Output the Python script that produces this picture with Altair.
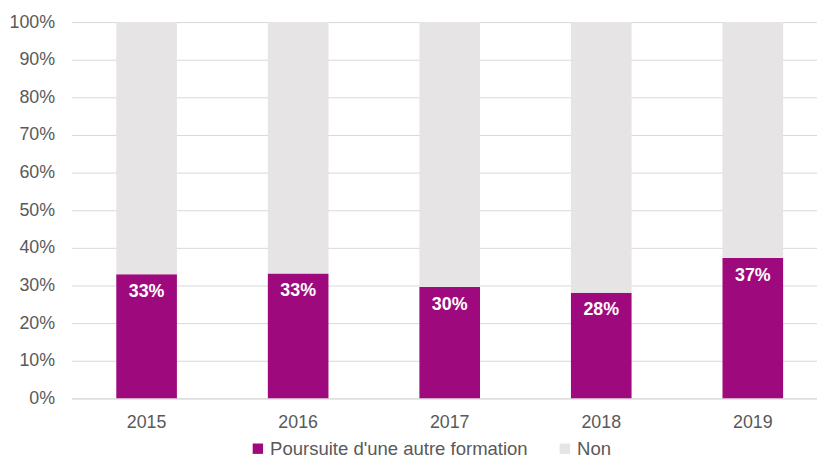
import altair as alt
import pandas as pd

years = ["2015", "2016", "2017", "2018", "2019"]
poursuite = [0.330, 0.332, 0.296, 0.281, 0.373]
non = [0.670, 0.668, 0.704, 0.719, 0.627]
series = ["Poursuite d'une autre formation", "Non"]
colors = ["#9E0A7E", "#E6E4E4"]
y_ticks = [0.0, 0.1, 0.2, 0.3, 0.4, 0.5, 0.6, 0.7, 0.8, 0.9, 1.0]

rows = []
for i, y in enumerate(years):
    rows.append({"year": y, "serie": series[0], "value": poursuite[i], "ord": 0})
    rows.append({"year": y, "serie": series[1], "value": non[i], "ord": 1})
df = pd.DataFrame(rows)

FONT = "Liberation Sans"
GREY = "#595959"

x_enc = alt.X(
    "year:N",
    sort=years,
    scale=alt.Scale(paddingInner=0.6, paddingOuter=0.26, align=0.57),
    axis=alt.Axis(title=None, labelAngle=0, labelFontSize=18, labelColor=GREY,
                  labelFont=FONT, labelPadding=15, ticks=False, domain=True,
                  domainColor="#D9D9D9", domainWidth=1, grid=False),
)

y_axis = alt.Axis(title=None, format=".0%", values=y_ticks, labelOverlap=False,
                  labelFontSize=18, labelColor=GREY, labelFont=FONT,
                  labelPadding=17, ticks=False, domain=False,
                  grid=True, gridColor="#D9D9D9", gridWidth=1)
y_scale = alt.Scale(domain=[0, 1], nice=False)

bars = alt.Chart(df).mark_bar().encode(
    x=x_enc,
    y=alt.Y("value:Q", stack="zero", scale=y_scale, axis=y_axis),
    color=alt.Color("serie:N", scale=alt.Scale(domain=series, range=colors),
                    legend=alt.Legend(title=None, orient="none", legendX=179, legendY=421,
                                      direction="horizontal", padding=0,
                                      symbolType="square", symbolSize=110,
                                      symbolStrokeWidth=0, labelFontSize=18.7,
                                      labelColor=GREY, labelFont=FONT, labelOffset=3,
                                      columnPadding=28, labelLimit=400)),
    order=alt.Order("ord:Q"),
)

labels = alt.Chart(df).transform_filter(
    alt.datum.ord == 0
).mark_text(color="white", fontWeight="bold", fontSize=18, font=FONT,
            baseline="middle", dy=18).encode(
    x=alt.X("year:N", sort=years),
    y=alt.Y("value:Q", scale=y_scale, axis=y_axis),
    text=alt.Text("value:Q", format=".0%"),
)

chart = alt.layer(bars, labels).properties(
    width=753, height=380,
    autosize=alt.AutoSizeParams(type="none"),
    padding={"left": 64, "top": 12, "right": 0, "bottom": 59},
).configure_view(stroke=None)

chart.save("out.html", embed_options={"renderer": "svg", "actions": False})
